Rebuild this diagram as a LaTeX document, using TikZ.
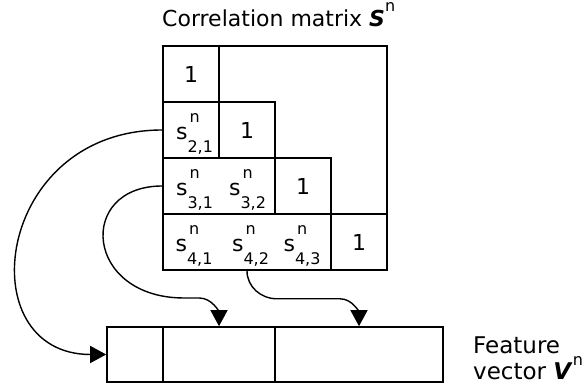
\documentclass[tikz,border=0pt]{standalone}
\usepackage{amsmath}
\usepackage{fontspec}
\setmainfont{DejaVu Sans}
\usepackage{tikz}
\usetikzlibrary{arrows.meta}
\newcommand{\supn}[1]{\raisebox{#1}{\fontsize{16}{16}\selectfont n}}
\newcommand{\sent}[1]{s\makebox[0pt][l]{\hspace{2pt}\supn{16.5pt}}\raisebox{-13.5pt}{\fontsize{16}{16}\selectfont #1}}

\begin{document}
\begin{tikzpicture}[x=1pt,y=1pt,
  font=\fontsize{22}{26}\selectfont,
  box/.style={draw,line width=1.6pt,inner sep=0pt,minimum height=56pt},
  entry/.style={anchor=base,inner sep=0pt},
  link/.style={-{Triangle[length=16pt,width=17pt]},line width=1.4pt}]
  \useasboundingbox (0,0) rectangle (584,387);
  \node[anchor=base west,inner sep=0pt] (title) at (162,360.5) {Correlation matrix \textbf{\textit{S}}\supn{15pt}};
  \node[box,minimum width=224pt,minimum height=224pt] (smat) at (275,229) {};

  \node[box,minimum width=56pt] (d1) at (191,313) {1};
  \node[box,minimum width=56pt] (r2) at (191,257) {};
  \node[box,minimum width=56pt] (d2) at (247,257) {1};
  \node[box,minimum width=112pt] (r3) at (219,201) {};
  \node[box,minimum width=56pt] (d3) at (303,201) {1};
  \node[box,minimum width=168pt] (r4) at (247,145) {};
  \node[box,minimum width=56pt] (d4) at (359,145) {1};

  \node[entry] (s21) at (194.5,247.5) {\sent{2,1}};
  \node[entry] (s31) at (194.5,191.5) {\sent{3,1}};
  \node[entry] (s32) at (247.5,191.5) {\sent{3,2}};
  \node[entry] (s41) at (194,135.5) {\sent{4,1}};
  \node[entry] (s42) at (250.5,135.5) {\sent{4,2}};
  \node[entry] (s43) at (302,135.5) {\sent{4,3}};

  \node[box,minimum width=56pt,minimum height=55pt] (v1) at (135,32.5) {};
  \node[box,minimum width=112pt,minimum height=55pt] (v2) at (219,32.5) {};
  \node[box,minimum width=168pt,minimum height=55pt] (v3) at (359,32.5) {};
  \node[anchor=north west,align=left,inner sep=0pt,font=\fontsize{23}{26}\selectfont] (vlabel) at (473,50) {Feature\\vector \textbf{\textit{V}}\supn{14pt}};

  \draw [link] (r2.west) .. controls +(-168,0) and +(-138,0) .. (v1.west);
  \draw [link] (r3.west) .. controls +(-86,0) and +(-100,0) .. ++(22,-112) -- ++(15,0) to[out=0,in=90] (v2.north);
  \draw [link] (r4.south) to[out=-90,in=180] ++(30,-28) -- ++(63,0) to[out=0,in=90] (v3.north);
\end{tikzpicture}
\end{document}
